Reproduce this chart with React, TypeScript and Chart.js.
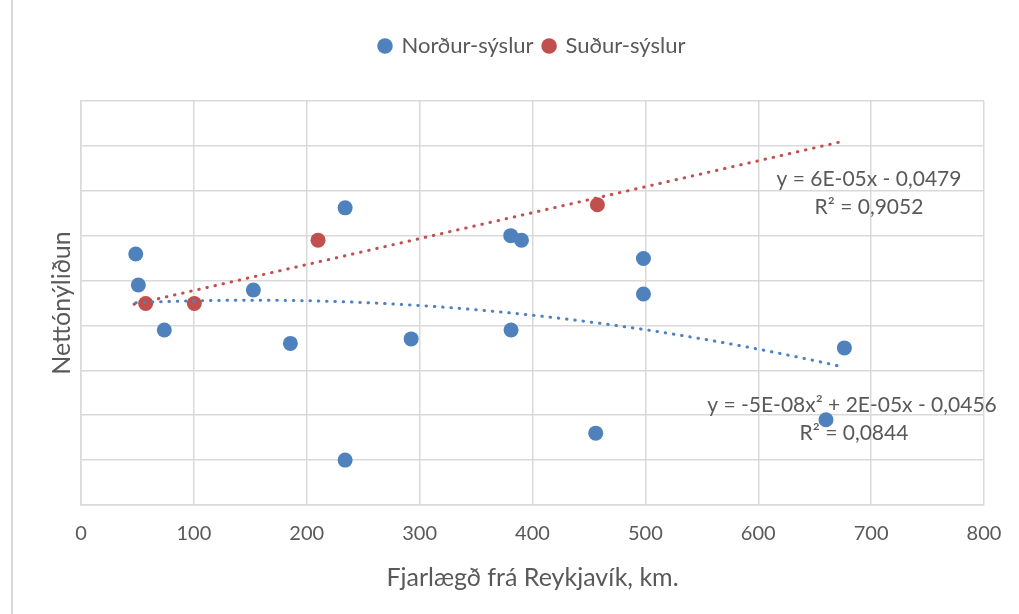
import React, { useEffect, useRef } from 'react';
import { Chart, registerables } from 'chart.js';

Chart.register(...registerables);

const seriesNames = ['Norður-sýslur', 'Suður-sýslur'];
const seriesColors = ['#4F81BD', '#C0504D'];

const nordurX = [48.5, 50.8, 73.8, 152.7, 185.5, 234, 234, 292.5, 380.7, 390.2, 381, 456, 498.3, 498.3, 660, 676.3];
const nordurY = [-0.0341, -0.041, -0.051, -0.0421, -0.054, -0.0238, -0.08, -0.053, -0.03, -0.031, -0.051, -0.074, -0.0351, -0.043, -0.071, -0.055];

const sudurX = [57.3, 100.4, 210, 457.5];
const sudurY = [-0.0451, -0.0451, -0.031, -0.0231];

const xTickValues = [0, 100, 200, 300, 400, 500, 600, 700, 800];
const yGridValues = [-0.09, -0.08, -0.07, -0.06, -0.05, -0.04, -0.03, -0.02, -0.01, 0];

const nordurTrendRange = [48.5, 676.3];
const sudurTrendRange = [47, 672];

const nordurTrendText = ['y = -5E-08x² + 2E-05x - 0,0456', 'R² = 0,0844'];
const sudurTrendText = ['y = 6E-05x - 0,0479', 'R² = 0,9052'];

const xTitle = 'Fjarlægð frá Reykjavík, km.';
const yTitle = 'Nettónýliðun';

const FONT = 'Lato, "Open Sans", sans-serif';
const TEXT = '#595959';
const GRID = '#d9d9d9';

function solve3(A: number[][], b: number[]): number[] {
  const M = A.map((r, i) => [...r, b[i]]);
  for (let c = 0; c < 3; c++) {
    let p = c;
    for (let r = c + 1; r < 3; r++) if (Math.abs(M[r][c]) > Math.abs(M[p][c])) p = r;
    [M[c], M[p]] = [M[p], M[c]];
    for (let r = 0; r < 3; r++) {
      if (r === c) continue;
      const f = M[r][c] / M[c][c];
      for (let k = c; k < 4; k++) M[r][k] -= f * M[c][k];
    }
  }
  return [M[0][3] / M[0][0], M[1][3] / M[1][1], M[2][3] / M[2][2]];
}

function fitLinear(xs: number[], ys: number[]) {
  const n = xs.length;
  const mx = xs.reduce((a, b) => a + b, 0) / n;
  const my = ys.reduce((a, b) => a + b, 0) / n;
  let sxx = 0, sxy = 0;
  xs.forEach((x, i) => { sxx += (x - mx) ** 2; sxy += (x - mx) * (ys[i] - my); });
  const m = sxy / sxx;
  const b = my - m * mx;
  return (x: number) => m * x + b;
}

function fitQuadratic(xs: number[], ys: number[]) {
  const s = [0, 0, 0, 0, 0];
  const t = [0, 0, 0];
  xs.forEach((x, i) => {
    for (let k = 0; k < 5; k++) s[k] += x ** k;
    for (let k = 0; k < 3; k++) t[k] += ys[i] * x ** k;
  });
  const [c0, c1, c2] = solve3(
    [[s[0], s[1], s[2]], [s[1], s[2], s[3]], [s[2], s[3], s[4]]],
    t
  );
  return (x: number) => c0 + c1 * x + c2 * x * x;
}

function sampleLine(f: (x: number) => number, range: number[], steps: number) {
  const pts: { x: number; y: number }[] = [];
  for (let i = 0; i <= steps; i++) {
    const x = range[0] + ((range[1] - range[0]) * i) / steps;
    pts.push({ x, y: f(x) });
  }
  return pts;
}

const legendSpacer = {
  id: 'legendSpacer',
  beforeInit(chart: any) {
    const legend = chart.legend;
    if (!legend) return;
    const orig = legend.fit;
    legend.fit = function () {
      orig.call(this);
      this.height = 76;
    };
  },
};

const trendLabels = {
  id: 'trendLabels',
  afterDatasetsDraw(chart: any) {
    const ctx = chart.ctx;
    ctx.save();
    ctx.fillStyle = TEXT;
    ctx.font = `21px ${FONT}`;
    ctx.textAlign = 'center';
    ctx.textBaseline = 'middle';
    ctx.fillText(sudurTrendText[0], 869, 179);
    ctx.fillText(sudurTrendText[1], 869, 207);
    ctx.fillText(nordurTrendText[0], 852, 405);
    ctx.fillText(nordurTrendText[1], 854, 433);
    ctx.restore();
  },
};

export default function App() {
  const ref = useRef<HTMLCanvasElement | null>(null);

  useEffect(() => {
    if (!ref.current) return;
    const nordurFit = fitQuadratic(nordurX, nordurY);
    const sudurFit = fitLinear(sudurX, sudurY);

    const chart = new Chart(ref.current, {
      type: 'scatter',
      data: {
        datasets: [
          {
            label: seriesNames[0],
            data: nordurX.map((x, i) => ({ x, y: nordurY[i] })),
            backgroundColor: seriesColors[0],
            borderColor: seriesColors[0],
            pointRadius: 7.5,
            pointBorderWidth: 0,
            order: 2,
          },
          {
            label: seriesNames[1],
            data: sudurX.map((x, i) => ({ x, y: sudurY[i] })),
            backgroundColor: seriesColors[1],
            borderColor: seriesColors[1],
            pointRadius: 7.5,
            pointBorderWidth: 0,
            order: 2,
          },
          {
            type: 'line',
            label: 'trend-n',
            data: sampleLine(nordurFit, nordurTrendRange, 80),
            borderColor: seriesColors[0],
            borderWidth: 3,
            borderDash: [0.5, 7.8],
            borderCapStyle: 'round',
            pointRadius: 0,
            fill: false,
            order: 1,
          } as any,
          {
            type: 'line',
            label: 'trend-s',
            data: sampleLine(sudurFit, sudurTrendRange, 80),
            borderColor: seriesColors[1],
            borderWidth: 3,
            borderDash: [0.5, 7.8],
            borderCapStyle: 'round',
            pointRadius: 0,
            fill: false,
            order: 1,
          } as any,
        ],
      },
      options: {
        animation: false,
        responsive: false,
        maintainAspectRatio: false,
        layout: { padding: { top: 25, left: 0, right: 35, bottom: 0 } },
        plugins: {
          legend: {
            position: 'top',
            fullSize: false,
            labels: {
              filter: (item: any) => !String(item.text).startsWith('trend'),
              usePointStyle: true,
              pointStyle: 'circle',
              boxWidth: 11,
              boxHeight: 11,
              padding: 10,
              color: TEXT,
              font: { family: FONT, size: 22 },
            },
          },
          tooltip: { enabled: false },
        },
        scales: {
          x: {
            type: 'linear',
            min: 0,
            max: 800,
            afterBuildTicks: (scale: any) => {
              scale.ticks = xTickValues.map((v) => ({ value: v }));
            },
            afterFit: (scale: any) => {
              scale.height = 109;
            },
            ticks: {
              color: TEXT,
              font: { family: FONT, size: 20 },
              padding: 17,
              maxRotation: 0,
            },
            grid: { color: GRID, lineWidth: 1.5, drawTicks: false },
            border: { color: GRID, width: 1.5 },
            title: {
              display: true,
              text: xTitle,
              color: TEXT,
              font: { family: FONT, size: 25 },
              padding: { top: 0, bottom: 21 },
            },
          },
          y: {
            type: 'linear',
            min: -0.09,
            max: 0,
            afterBuildTicks: (scale: any) => {
              scale.ticks = yGridValues.map((v) => ({ value: v }));
            },
            afterFit: (scale: any) => {
              scale.width = 81;
            },
            ticks: { display: false },
            grid: { color: GRID, lineWidth: 1.5, drawTicks: false },
            border: { color: GRID, width: 1.5 },
            title: {
              display: true,
              text: yTitle,
              color: TEXT,
              font: { family: FONT, size: 25 },
              padding: { top: 47, bottom: 0 },
            },
          },
        },
      },
      plugins: [legendSpacer, trendLabels],
    });
    return () => chart.destroy();
  }, []);

  return (
    <div style={{ position: 'fixed', left: 0, top: 0, width: 1019, height: 614, background: '#fff' }}>
      <div style={{ position: 'absolute', left: 11, top: 0, width: 1.5, height: 614, background: GRID }} />
      <canvas ref={ref} width={1019} height={614} style={{ position: 'absolute', left: 0, top: 0, width: 1019, height: 614 }} />
    </div>
  );
}
